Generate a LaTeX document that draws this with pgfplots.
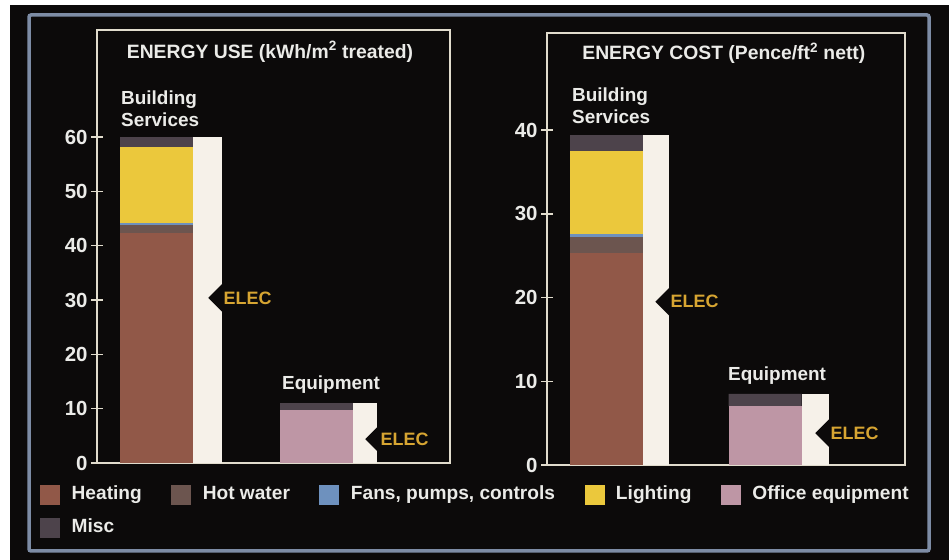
\documentclass[border=0pt]{standalone}
\usepackage{pgfplots}
\pgfplotsset{compat=1.18}
\usepackage{fontspec}
\setmainfont{Liberation Sans}
\usetikzlibrary{shapes.symbols}
\definecolor{bg}{RGB}{12,10,10}
\definecolor{heat}{RGB}{145,88,72}
\definecolor{hotw}{RGB}{108,85,79}
\definecolor{fans}{RGB}{110,145,190}
\definecolor{light}{RGB}{235,200,60}
\definecolor{office}{RGB}{190,150,165}
\definecolor{misc}{RGB}{77,67,75}
\definecolor{cream}{RGB}{246,241,233}
\definecolor{framec}{RGB}{225,220,205}
\definecolor{txt}{RGB}{235,235,232}
\definecolor{gold}{RGB}{215,165,50}
\definecolor{outer}{RGB}{125,140,165}
\newcommand{\lab}{\fontsize{19}{22}\selectfont\bfseries}
\newcommand{\titlab}{\fontsize{19.4}{22}\selectfont\bfseries}
\newcommand{\leglab}{\fontsize{19.2}{22}\selectfont\bfseries}
\newcommand{\eleclab}{\fontsize{18}{22}\selectfont\bfseries}
\newcommand{\ticklab}{\fontsize{20.5}{22}\selectfont\bfseries}
\pgfplotsset{
  panel/.style={
    scale only axis, anchor=south west,
    xmin=0, ymin=0,
    axis line style={framec, line width=1.5bp},
    xtick=\empty,
    ytick pos=left,
    tick align=center,
    major tick length=12bp,
    tick style={framec, line width=1.5bp},
    yticklabel style={text=txt, font=\ticklab},
    /pgf/number format/assume math mode=true,
    clip=false,
  },
}
\tikzset{
  elec/.style={signal, signal to=west, signal pointer angle=90, fill=bg, text=gold,
    font=\eleclab, inner xsep=1bp, inner ysep=8bp, anchor=west},
}
\begin{document}
\begin{tikzpicture}[x=1bp,y=1bp]
\useasboundingbox (0,0) rectangle (949,560);
\fill[white] (0,0) rectangle (949,560);
\fill[bg] (10,0) rectangle (949,555);
\draw[outer, line width=3.5bp, rounded corners=2bp] (29,9) rectangle (929,545);

% ---------------- LEFT PANEL ----------------
\begin{axis}[panel, at={(97bp,97bp)}, width=353bp, height=433bp,
  xmax=353, ymax=79.7, ytick={0,10,...,60},
  ybar stacked, bar width=73,
  every axis plot/.append style={legend image code/.code={\fill[##1] (0bp,-10bp) rectangle (20bp,10bp);}},
  legend columns=5, legend cell align=left,
  legend style={draw=none, fill=none, text=txt, font=\leglab, inner sep=0pt,
    at={(axis description cs:-0.1615,-0.048)}, anchor=north west,
    nodes={text height=13.8bp, text depth=4bp},
    /tikz/every odd column/.append style={column sep=9.5bp},
    /tikz/every even column/.append style={column sep=27.5bp},
    row sep=11bp},
]
\addplot[fill=heat, draw=none] coordinates {(59.5,42.3) (219.5,0)};
\addplot[fill=hotw, draw=none] coordinates {(59.5,1.5) (219.5,0)};
\addplot[fill=fans, draw=none] coordinates {(59.5,0.4) (219.5,0)};
\addplot[fill=light, draw=none] coordinates {(59.5,14.0) (219.5,0)};
\addplot[fill=office, draw=none] coordinates {(59.5,0) (219.5,9.8)};
\addplot[fill=misc, draw=none] coordinates {(59.5,1.8) (219.5,1.2)};
\legend{Heating, Hot water, {Fans, pumps, controls}, Lighting, Office equipment, Misc}
\end{axis}
\begin{axis}[panel, hide axis, at={(97bp,97bp)}, width=353bp, height=433bp,
  xmax=353, ymax=79.7]
\addplot[ybar, bar shift=0pt, bar width=29, fill=cream, draw=none] coordinates {(110.5,60)};
\addplot[ybar, bar shift=0pt, bar width=24, fill=cream, draw=none] coordinates {(268,11)};
\node[elec] at (axis cs:111,30.4) {ELEC};
\node[elec] at (axis cs:268,4.4) {ELEC};
\node[font=\titlab, text=txt, anchor=base] at (rel axis cs:0.49,0.935) {ENERGY USE (kWh/m\textsuperscript{2} treated)};
\node[font=\lab, text=txt, anchor=base west, align=left, inner sep=0pt] at (axis cs:24,61.9) {Building\\Services};
\node[font=\lab, text=txt, anchor=base west, inner sep=0pt] at (axis cs:185,13.6) {Equipment};
\end{axis}

% ---------------- RIGHT PANEL ----------------
\begin{axis}[panel, at={(547bp,95bp)}, width=358bp, height=432bp,
  xmax=358, ymax=51.6, ytick={0,10,...,40},
  ybar stacked, bar width=73,
]
\addplot[fill=heat, draw=none] coordinates {(59.5,25.3) (218,0)};
\addplot[fill=hotw, draw=none] coordinates {(59.5,1.9) (218,0)};
\addplot[fill=fans, draw=none] coordinates {(59.5,0.4) (218,0)};
\addplot[fill=light, draw=none] coordinates {(59.5,9.9) (218,0)};
\addplot[fill=office, draw=none] coordinates {(59.5,0) (218,7.0)};
\addplot[fill=misc, draw=none] coordinates {(59.5,1.9) (218,1.5)};
\end{axis}
\begin{axis}[panel, hide axis, at={(547bp,95bp)}, width=358bp, height=432bp,
  xmax=358, ymax=51.6]
\addplot[ybar, bar shift=0pt, bar width=26, fill=cream, draw=none] coordinates {(109,39.4)};
\addplot[ybar, bar shift=0pt, bar width=27, fill=cream, draw=none] coordinates {(268.5,8.5)};
\node[elec] at (axis cs:108,19.5) {ELEC};
\node[elec] at (axis cs:268,3.8) {ELEC};
\node[font=\titlab, text=txt, anchor=base] at (rel axis cs:0.494,0.9375) {ENERGY COST (Pence/ft\textsuperscript{2} nett)};
\node[font=\lab, text=txt, anchor=base west, align=left, inner sep=0pt] at (axis cs:25,40.8) {Building\\Services};
\node[font=\lab, text=txt, anchor=base west, inner sep=0pt] at (axis cs:181,10.1) {Equipment};
\end{axis}
\end{tikzpicture}
\end{document}
